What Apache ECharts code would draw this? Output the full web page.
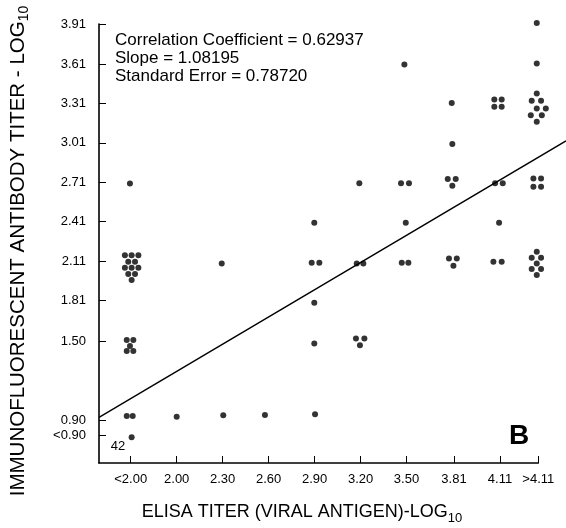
<!DOCTYPE html>
<html>
<head>
<meta charset="utf-8">
<script src="https://cdn.jsdelivr.net/npm/echarts@6/dist/echarts.min.js"></script>
<style>
  html, body { margin: 0; padding: 0; background: #fff; }
  #chart { width: 566px; height: 528px; }
</style>
</head>
<body>
<div id="chart"></div>
<script>
// ELISA titer (log10) tick positions and the labels printed under them
const xTickValues = [1.70, 2.00, 2.30, 2.60, 2.90, 3.20, 3.50, 3.81, 4.11, 4.36];
const xTickLabels = ['<2.00', '2.00', '2.30', '2.60', '2.90', '3.20', '3.50', '3.81', '4.11', '>4.11'];

// Immunofluorescent antibody titer (log10) ticks
const yTickValues = [0.78, 0.90, 1.50, 1.81, 2.11, 2.41, 2.71, 3.01, 3.31, 3.61, 3.91];
const yTickLabels = ['<0.90', '0.90', '1.50', '1.81', '2.11', '2.41', '2.71', '3.01', '3.31', '3.61', '3.91'];

// One dot per serum; tied titers are spread into small clusters around their level
const seraElisa = [
  // <2.00
  1.695,
  1.662, 1.706, 1.750, 1.684, 1.728, 1.662, 1.706, 1.750, 1.684, 1.728, 1.706,
  1.674, 1.717, 1.695, 1.674, 1.717,
  1.674, 1.713,
  1.706,
  // 2.00
  2.000,
  // 2.30
  2.294, 2.304,
  // 2.60
  2.576,
  // 2.90
  2.898, 2.881, 2.931, 2.898, 2.898, 2.903,
  // 3.20
  3.192, 3.175, 3.218, 3.170, 3.225, 3.196,
  // 3.50
  3.486, 3.464, 3.516, 3.495, 3.469, 3.512,
  // 3.81
  3.795, 3.799, 3.769, 3.821, 3.799, 3.777, 3.828, 3.806,
  // 4.11
  4.073, 4.121, 4.073, 4.121, 4.078, 4.128, 4.104, 4.067, 4.121,
  // >4.11
  4.350, 4.350,
  4.350, 4.317, 4.378, 4.350, 4.409, 4.311, 4.383, 4.350,
  4.328, 4.378, 4.328, 4.378,
  4.350, 4.317, 4.378, 4.350, 4.317, 4.378, 4.350
];
const seraIfa = [
  // <2.00
  2.701,
  2.155, 2.155, 2.155, 2.104, 2.104, 2.059, 2.059, 2.059, 2.011, 2.011, 1.965,
  1.508, 1.508, 1.463, 1.425, 1.425,
  0.930, 0.930,
  0.768,
  // 2.00
  0.925,
  // 2.30
  2.092, 0.935,
  // 2.60
  0.938,
  // 2.90
  2.401, 2.097, 2.097, 1.792, 1.483, 0.943,
  // 3.20
  2.703, 2.092, 2.092, 1.521, 1.521, 1.468,
  // 3.50
  3.607, 2.703, 2.703, 2.401, 2.097, 2.097,
  // 3.81
  3.314, 3.002, 2.734, 2.734, 2.683, 2.130, 2.130, 2.074,
  // 4.11
  3.340, 3.340, 3.284, 3.284, 2.703, 2.703, 2.401, 2.104, 2.104,
  // >4.11
  3.923, 3.614,
  3.386, 3.330, 3.330, 3.272, 3.272, 3.221, 3.221, 3.170,
  2.739, 2.739, 2.675, 2.675,
  2.180, 2.135, 2.135, 2.092, 2.049, 2.049, 2.003
];

// Least-squares line, from the y axis out to the right edge of the figure
const fitElisa = [1.493, 4.541];
const fitIfa = [0.920, 3.025];

const statLines = [
  'Correlation Coefficient = 0.62937',
  'Slope = 1.08195',
  'Standard Error = 0.78720'
];
const zeroCount = '42';
const panelLetter = 'B';

const FONT = '"Liberation Sans", Arial, Helvetica, sans-serif';

// axis ranges
const X_MIN = 1.493, X_MAX = 4.36, X_MAX_WIDE = 4.541;
const Y_MIN = 0.5723, Y_MAX = 3.915;

function labelFor(values, labels) {
  return function (v) {
    for (let i = 0; i < values.length; i++) {
      if (Math.abs(values[i] - v) < 1e-6) return labels[i];
    }
    return '';
  };
}

const points = seraElisa.map((x, i) => [x, seraIfa[i]]);
const fitLine = fitElisa.map((x, i) => [x, fitIfa[i]]);

const chart = echarts.init(document.getElementById('chart'), null, { renderer: 'canvas' });

const axisLineStyle = { show: true, onZero: false, lineStyle: { color: '#000', width: 1.6 } };
const tickStyle = { show: true, inside: true, length: 7, lineStyle: { color: '#000', width: 1 } };
const hiddenAxis = {
  show: false, axisLine: { show: false }, axisTick: { show: false },
  axisLabel: { show: false }, splitLine: { show: false }
};

chart.setOption({
  animation: false,
  backgroundColor: '#fff',
  grid: [
    { left: 99, right: 27.7, top: 24, bottom: 65, containLabel: false },
    // same plot area, widened to the right edge so the fitted line can run past the axis end
    { left: 99, right: 0, top: 24, bottom: 65, containLabel: false }
  ],
  xAxis: [
    {
      type: 'value', gridIndex: 0, min: X_MIN, max: X_MAX,
      axisLine: axisLineStyle,
      splitLine: { show: false },
      axisTick: Object.assign({}, tickStyle, { customValues: xTickValues }),
      axisLabel: {
        customValues: xTickValues,
        formatter: labelFor(xTickValues, xTickLabels),
        color: '#000', fontFamily: FONT, fontSize: 13, margin: 10
      }
    },
    Object.assign({ type: 'value', gridIndex: 1, min: X_MIN, max: X_MAX_WIDE }, hiddenAxis)
  ],
  yAxis: [
    {
      type: 'value', gridIndex: 0, min: Y_MIN, max: Y_MAX,
      axisLine: axisLineStyle,
      splitLine: { show: false },
      axisTick: Object.assign({}, tickStyle, { customValues: yTickValues }),
      axisLabel: {
        customValues: yTickValues,
        formatter: labelFor(yTickValues, yTickLabels),
        color: '#000', fontFamily: FONT, fontSize: 13, margin: 13
      }
    },
    Object.assign({ type: 'value', gridIndex: 1, min: Y_MIN, max: Y_MAX }, hiddenAxis)
  ],
  series: [
    {
      type: 'line',
      xAxisIndex: 1,
      yAxisIndex: 1,
      data: fitLine,
      symbol: 'none',
      clip: false,
      lineStyle: { color: '#000', width: 1.4 },
      z: 2
    },
    {
      type: 'scatter',
      xAxisIndex: 0,
      yAxisIndex: 0,
      data: points,
      symbol: 'circle',
      symbolSize: 6,
      clip: false,
      itemStyle: { color: '#000' },
      z: 3
    }
  ],
  graphic: [
    {
      type: 'text',
      x: 18,
      y: 251,
      rotation: Math.PI / 2,
      style: {
        text: '{m|IMMUNOFLUORESCENT ANTIBODY TITER - LOG}{s|10}',
        align: 'center',
        verticalAlign: 'middle',
        fill: '#000',
        rich: {
          m: { fontFamily: FONT, fontSize: 20.5, lineHeight: 26, fill: '#000' },
          s: { fontFamily: FONT, fontSize: 14, lineHeight: 12, verticalAlign: 'bottom', fill: '#000' }
        }
      }
    },
    {
      type: 'text',
      x: 302,
      y: 512,
      style: {
        text: '{m|ELISA TITER (VIRAL ANTIGEN)-LOG}{s|10}',
        align: 'center',
        verticalAlign: 'middle',
        fill: '#000',
        rich: {
          m: { fontFamily: FONT, fontSize: 18, lineHeight: 26, fill: '#000' },
          s: { fontFamily: FONT, fontSize: 13, lineHeight: 12, verticalAlign: 'bottom', fill: '#000' }
        }
      }
    },
    {
      type: 'group',
      children: statLines.map((t, i) => ({
        type: 'text',
        x: 115,
        y: 40 + i * 18,
        style: { text: t, fontFamily: FONT, fontSize: 17, fill: '#000', align: 'left', verticalAlign: 'middle' }
      }))
    },
    {
      type: 'text',
      x: 118,
      y: 446,
      style: { text: zeroCount, fontFamily: FONT, fontSize: 13, fill: '#000', align: 'center', verticalAlign: 'middle' }
    },
    {
      type: 'text',
      x: 519,
      y: 436,
      style: { text: panelLetter, fontFamily: FONT, fontSize: 28, fontWeight: 'bold', fill: '#000', align: 'center', verticalAlign: 'middle' }
    }
  ]
});
</script>
</body>
</html>
